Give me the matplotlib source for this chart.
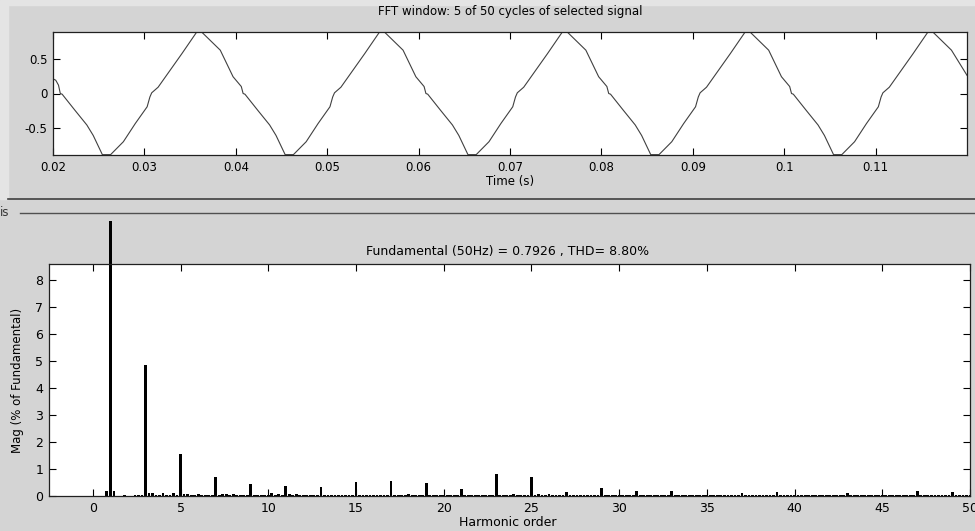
import matplotlib.pyplot as plt
import numpy as np
from matplotlib.lines import Line2D
from matplotlib.patches import Rectangle
from matplotlib.transforms import Bbox, TransformedBbox

W, H = 975, 531
plt.rcParams['font.family'] = ['DejaVu Sans']

# ---- signal in the FFT window (vertices) ----
t = [0.0200, 0.0203, 0.0206, 0.0208,
     0.0210, 0.0224, 0.0237, 0.0244, 0.0254, 0.0263, 0.0277, 0.0290, 0.0303, 0.0306,
     0.0308, 0.0315, 0.0328, 0.0341, 0.0357, 0.0363, 0.0383, 0.0397, 0.0406, 0.0408,
     0.0410, 0.0424, 0.0437, 0.0444, 0.0454, 0.0463, 0.0477, 0.0490, 0.0503, 0.0506,
     0.0508, 0.0515, 0.0528, 0.0541, 0.0557, 0.0563, 0.0583, 0.0597, 0.0606, 0.0608,
     0.0610, 0.0624, 0.0637, 0.0644, 0.0654, 0.0663, 0.0677, 0.0690, 0.0703, 0.0706,
     0.0708, 0.0715, 0.0728, 0.0741, 0.0757, 0.0763, 0.0783, 0.0797, 0.0806, 0.0808,
     0.0810, 0.0824, 0.0837, 0.0844, 0.0854, 0.0863, 0.0877, 0.0890, 0.0903, 0.0906,
     0.0908, 0.0915, 0.0928, 0.0941, 0.0957, 0.0963, 0.0983, 0.0997, 0.1006, 0.1008,
     0.1010, 0.1024, 0.1037, 0.1044, 0.1054, 0.1063, 0.1077, 0.1090, 0.1103, 0.1106,
     0.1108, 0.1115, 0.1128, 0.1141, 0.1157, 0.1163, 0.1183, 0.1200]
v = [0.21, 0.19, 0.12, 0.00,
     -0.01, -0.24, -0.45, -0.60, -0.875, -0.875, -0.69, -0.43, -0.19, -0.05,
     0.01, 0.09, 0.33, 0.57, 0.875, 0.875, 0.62, 0.24, 0.10, 0.00,
     -0.01, -0.24, -0.45, -0.60, -0.875, -0.875, -0.69, -0.43, -0.19, -0.05,
     0.01, 0.09, 0.33, 0.57, 0.875, 0.875, 0.62, 0.24, 0.10, 0.00,
     -0.01, -0.24, -0.45, -0.60, -0.875, -0.875, -0.69, -0.43, -0.19, -0.05,
     0.01, 0.09, 0.33, 0.57, 0.875, 0.875, 0.62, 0.24, 0.10, 0.00,
     -0.01, -0.24, -0.45, -0.60, -0.875, -0.875, -0.69, -0.43, -0.19, -0.05,
     0.01, 0.09, 0.33, 0.57, 0.875, 0.875, 0.62, 0.24, 0.10, 0.00,
     -0.01, -0.24, -0.45, -0.60, -0.875, -0.875, -0.69, -0.43, -0.19, -0.05,
     0.01, 0.09, 0.33, 0.57, 0.875, 0.875, 0.62, 0.26]

# ---- harmonic spectrum, % of fundamental, bins every 0.2 order ----
orders = np.round(np.arange(0, 50.001, 0.2), 1)
floor_mag = 0.035     # tiny leakage bins seen as dots along zero
floor_start = 2.4
harm = {0.8: 0.20, 1.0: 100.0, 1.2: 0.20, 1.8: 0.05,
        3.0: 4.85, 3.2: 0.11, 3.4: 0.10, 4.0: 0.12, 4.6: 0.10,
        5.0: 1.56, 5.2: 0.07, 5.4: 0.07, 6.0: 0.06,
        7.0: 0.70, 7.4: 0.07, 7.6: 0.07, 8.0: 0.08,
        9.0: 0.46, 10.2: 0.10, 10.6: 0.07, 11.0: 0.36, 11.2: 0.07, 11.6: 0.07,
        12.2: 0.05, 12.6: 0.05, 13.0: 0.32, 15.0: 0.53, 17.0: 0.57,
        18.0: 0.07, 19.0: 0.49, 21.0: 0.26, 23.0: 0.83, 24.0: 0.06,
        25.0: 0.70, 25.4: 0.06, 26.0: 0.06, 27.0: 0.15, 29.0: 0.30,
        31.0: 0.19, 33.0: 0.19, 37.0: 0.11, 39.0: 0.15, 43.0: 0.11,
        47.0: 0.19, 49.0: 0.15}

mag = np.where(orders >= floor_start, floor_mag, 0.0)
for k, m in harm.items():
    mag[np.isclose(orders, k)] = m

fig = plt.figure(figsize=(W / 100, H / 100), dpi=100)
fig.patch.set_facecolor('#d4d4d4')
fig.add_artist(Rectangle((0, 1 - 199 / H), 8 / W, 199 / H, transform=fig.transFigure,
                         color='#e4e4e4', zorder=0))
fig.add_artist(Rectangle((0, 1 - 5 / H), 1, 5 / H, transform=fig.transFigure,
                         color='#e4e4e4', zorder=0))


def ax_rect(left, top, right, bottom):
    return [left / W, 1 - bottom / H, (right - left) / W, (bottom - top) / H]


# top panel: signal
ax1 = fig.add_axes(ax_rect(53, 32, 967, 155))
ax1.plot(t, v, color='#404040', lw=0.8)
ax1.set_xlim(0.02, 0.12)
ax1.set_ylim(-0.88, 0.88)
ax1.set_xticks([0.02, 0.03, 0.04, 0.05, 0.06, 0.07, 0.08, 0.09, 0.1, 0.11])
ax1.set_xticklabels(['0.02', '0.03', '0.04', '0.05', '0.06', '0.07', '0.08', '0.09', '0.1', '0.11'])
ax1.set_yticks([-0.5, 0, 0.5])
ax1.set_yticklabels(['-0.5', '0', '0.5'])
ax1.tick_params(direction='in', top=True, right=True, length=5, width=0.8,
                labelsize=8.5, pad=4)

# bottom panel: spectrum
ax2 = fig.add_axes(ax_rect(49, 264, 970, 496))
bars = ax2.bar(orders, mag, width=0.16, color='black', linewidth=0)
ax2.set_xlim(-2.5, 50)
ax2.set_ylim(0, 8.6)
ax2.set_xticks(range(0, 51, 5))
ax2.set_yticks(range(0, 9))
ax2.tick_params(direction='in', top=True, right=True, length=5, width=0.8,
                labelsize=9, pad=4)

# the fundamental bar runs out of the axes up to the panel edge
clip = TransformedBbox(Bbox.from_extents(49 / W, 0, 970 / W, 1 - 221 / H), fig.transFigure)
for o, b in zip(orders, bars):
    if np.isclose(o, 1.0):
        b.set_clip_on(True)
        b.set_clip_box(clip)
        b.set_clip_path(None)

for ax in (ax1, ax2):
    for s in ax.spines.values():
        s.set_linewidth(0.9)
        s.set_color('#202020')


def ftext(x, y, s, **kw):
    fig.text(x / W, 1 - y / H, s, ha='center', va='center', **kw)


ftext(510, 12, 'FFT window: 5 of 50 cycles of selected signal', fontsize=8.5)
ftext(510, 181, 'Time (s)', fontsize=8.5)
ftext(508, 251, 'Fundamental (50Hz) = 0.7926 , THD= 8.80%', fontsize=9)
ftext(508, 522, 'Harmonic order', fontsize=9)
ftext(18, 380, 'Mag (% of Fundamental)', fontsize=8.5, rotation=90)
fig.text(0 / W, 1 - 213 / H, 'is', ha='left', va='center', fontsize=8.5, color='#333333')

fig.add_artist(Line2D([8 / W, 1], [1 - 199 / H] * 2, transform=fig.transFigure,
                      color='#404040', lw=1.2))
fig.add_artist(Line2D([20 / W, 1], [1 - 213 / H] * 2, transform=fig.transFigure,
                      color='#505050', lw=1.0))

fig.savefig('out.png', dpi=100, facecolor=fig.get_facecolor())
